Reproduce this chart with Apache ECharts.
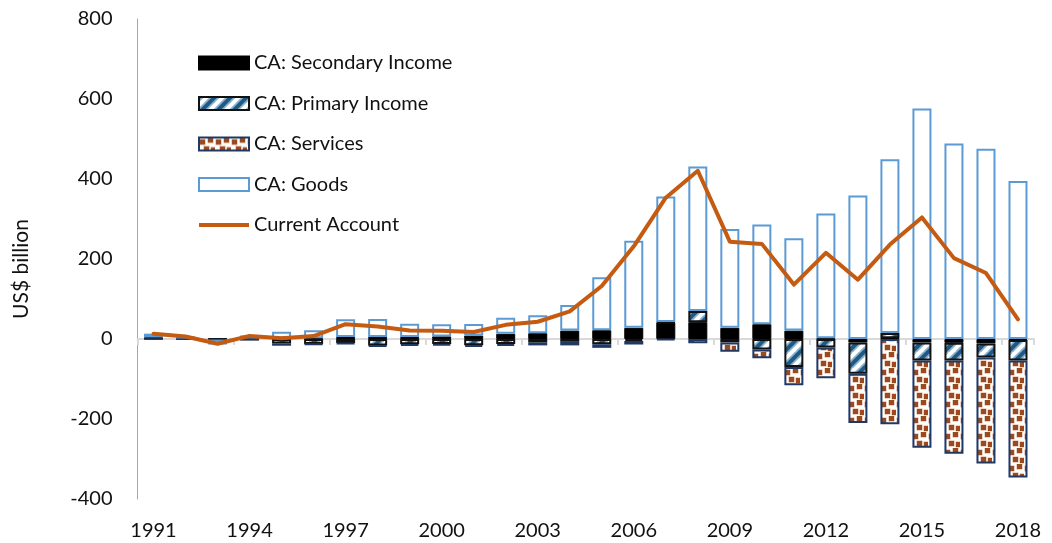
<!DOCTYPE html>
<html>
<head>
<meta charset="utf-8">
<script src="https://cdn.jsdelivr.net/npm/echarts@6/dist/echarts.min.js"></script>
<style>
  html, body { margin: 0; padding: 0; background: #fff; }
  #chart { width: 1052px; height: 543px; }
</style>
</head>
<body>
<div id="chart"></div>
<script>
// China current account components, US$ billion
const years = ['1991','1992','1993','1994','1995','1996','1997','1998','1999','2000',
  '2001','2002','2003','2004','2005','2006','2007','2008','2009','2010',
  '2011','2012','2013','2014','2015','2016','2017','2018'];

const secondaryIncome = [1.0, 1.2, 1.7, 1.4, 1.4, 2.1, 5.0, 5.3, 5.0, 6.5,
  8.5, 12.9, 14.5, 21.0, 22.0, 27.9, 41.0, 42.0, 28.0, 37.0,
  21.0, 2.0, -8.7, 1.9, -8.5, -9.5, -11.0, -2.5];

const primaryIncome = [0.8, 0.2, -1.3, -1.0, -11.0, -12.4, -10.0, -16.0, -13.0, -12.5,
  -15.5, -12.5, -9.0, -7.0, -13.1, -5.0, 1.5, 28.0, -8.5, -26.0,
  -70.0, -21.0, -78.4, 13.3, -45.5, -44.5, -35.0, -51.4];

const services = [2.8, -0.2, -0.8, 0.0, -5.8, -2.0, -2.5, -2.8, -3.9, -4.0,
  -4.6, -5.0, -7.0, -9.0, -9.0, -8.8, -3.0, -10.4, -23.2, -22.2,
  -45.9, -77.2, -123.2, -213.2, -218.0, -232.7, -265.0, -292.2];

const goods = [8.7, 5.2, -11.5, 7.3, 17.0, 19.5, 44.5, 45.0, 33.0, 30.5,
  29.0, 40.0, 44.6, 64.0, 132.5, 217.7, 313.7, 361.0, 247.0, 249.0,
  231.0, 311.6, 358.5, 434.0, 576.0, 488.9, 475.9, 395.2];

const currentAccount = [13.3, 6.4, -11.9, 7.7, 1.6, 7.2, 37.0, 31.5, 21.1, 20.5,
  17.4, 35.4, 43.1, 68.9, 132.4, 231.8, 353.2, 420.6, 243.3, 237.8,
  136.1, 215.4, 148.2, 236.0, 304.0, 202.2, 164.9, 49.1];

const yTicks = { min: -400, max: 800, step: 200 };

const FONT = 'Lato, "Open Sans", sans-serif';

// Confetti fill: scattered soft brown squares on white
function confettiPattern() {
  const s = 16;
  const c = document.createElement('canvas');
  c.width = s; c.height = s;
  const g = c.getContext('2d');
  g.fillStyle = '#ffffff';
  g.fillRect(0, 0, s, s);
  const spots = [[1, 2], [9, 0], [5, 9], [12, 10]];
  g.fillStyle = '#d9ab8c';
  spots.forEach(function (p) { g.fillRect(p[0] - 0.5, p[1] - 0.5, 6, 6); });
  g.fillStyle = '#9a4a1e';
  spots.forEach(function (p) { g.fillRect(p[0], p[1], 5, 5); });
  return c;
}

// Wide upward diagonal stripes in steel blue
function stripePattern() {
  const s = 16;
  const c = document.createElement('canvas');
  c.width = s; c.height = s;
  const g = c.getContext('2d');
  g.fillStyle = '#ffffff';
  g.fillRect(0, 0, s, s);
  const seg = function (w, col) {
    g.strokeStyle = col;
    g.lineWidth = w;
    [-s, 0, s].forEach(function (o) {
      g.beginPath();
      g.moveTo(o - 2, s + 2);
      g.lineTo(o + s + 2, -2);
      g.stroke();
    });
  };
  seg(7.5, '#8fb2cd');
  seg(4, '#1f5a85');
  return c;
}

const chart = echarts.init(document.getElementById('chart'), null, { renderer: 'canvas' });

const barBase = {
  type: 'bar',
  stack: 'ca',
  xAxisIndex: 0,
  barWidth: 19,
  emphasis: { disabled: true }
};

chart.setOption({
  animation: false,
  backgroundColor: '#ffffff',
  textStyle: { fontFamily: FONT },
  grid: { left: 137.5, right: 18, top: 19, bottom: 44, containLabel: false },
  legend: {
    orient: 'vertical',
    left: 198,
    top: 52,
    itemWidth: 50,
    itemHeight: 13,
    itemGap: 18.5,
    padding: 0,
    selectedMode: false,
    textStyle: { fontFamily: FONT, fontSize: 20, color: '#111111', lineHeight: 22 },
    data: [
      { name: 'CA: Secondary Income', icon: 'rect' },
      { name: 'CA: Primary Income', icon: 'rect' },
      { name: 'CA: Services', icon: 'rect' },
      { name: 'CA: Goods', icon: 'rect' },
      {
        name: 'Current Account',
        icon: 'path://M0,0M50,13M0,4.6L50,4.6L50,8.4L0,8.4Z',
        itemStyle: { color: '#c55a11', borderWidth: 0 }
      }
    ]
  },
  xAxis: [
    {
      type: 'category',
      data: years,
      position: 'top',
      boundaryGap: true,
      axisLine: { onZero: true, lineStyle: { color: '#d9d9d9', width: 2 } },
      axisTick: { show: true, inside: true, interval: 2, length: 6, lineStyle: { color: '#d9d9d9', width: 2 } },
      axisLabel: { show: false },
      splitLine: { show: false }
    },
    {
      type: 'category',
      data: years,
      position: 'bottom',
      boundaryGap: true,
      axisLine: { show: false, onZero: false },
      axisTick: { show: false },
      axisLabel: { interval: 2, margin: 22, fontSize: 20, color: '#111111', fontFamily: FONT },
      splitLine: { show: false }
    }
  ],
  yAxis: {
    type: 'value',
    min: yTicks.min,
    max: yTicks.max,
    interval: yTicks.step,
    axisLine: { show: true, onZero: false, lineStyle: { color: '#a6a6a6', width: 1 } },
    axisTick: { show: false },
    splitLine: { show: false },
    axisLabel: { margin: 25, fontSize: 20, color: '#111111', fontFamily: FONT }
  },
  graphic: [{
    type: 'text',
    x: 21,
    y: 269,
    rotation: Math.PI / 2,
    style: {
      text: 'US$ billion',
      font: '21px ' + FONT,
      fill: '#111111',
      align: 'center',
      verticalAlign: 'middle'
    }
  }],
  series: [
    Object.assign({}, barBase, {
      name: 'CA: Secondary Income',
      data: secondaryIncome,
      itemStyle: { color: '#000000', borderColor: '#000000', borderWidth: 1 }
    }),
    Object.assign({}, barBase, {
      name: 'CA: Primary Income',
      data: primaryIncome,
      itemStyle: { color: { image: stripePattern(), repeat: 'repeat' }, borderColor: '#111111', borderWidth: 2 }
    }),
    Object.assign({}, barBase, {
      name: 'CA: Services',
      data: services,
      itemStyle: { color: { image: confettiPattern(), repeat: 'repeat' }, borderColor: '#1f3864', borderWidth: 2 }
    }),
    Object.assign({}, barBase, {
      name: 'CA: Goods',
      data: goods,
      itemStyle: { color: '#ffffff', borderColor: '#5b9bd5', borderWidth: 2 }
    }),
    {
      name: 'Current Account',
      type: 'line',
      xAxisIndex: 0,
      data: currentAccount,
      symbol: 'none',
      z: 10,
      lineStyle: { color: '#c55a11', width: 4, join: 'round', cap: 'round' },
      itemStyle: { color: '#c55a11' },
      emphasis: { disabled: true }
    }
  ]
});
</script>
</body>
</html>
